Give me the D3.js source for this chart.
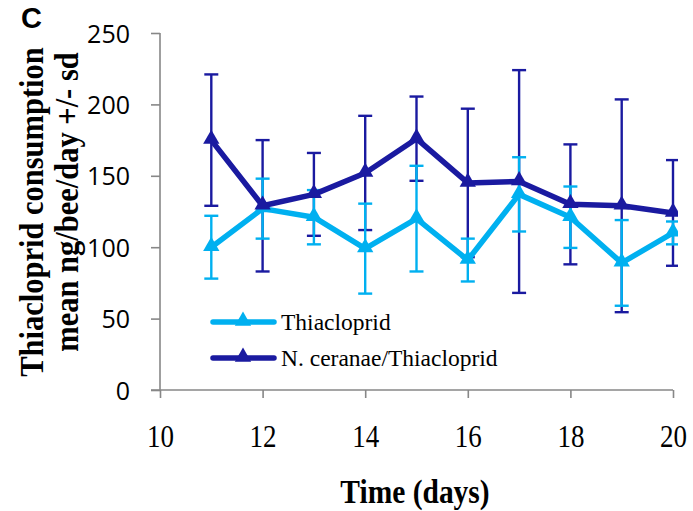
<!DOCTYPE html>
<html>
<head>
<meta charset="utf-8">
<script src="https://cdn.jsdelivr.net/npm/d3@7/dist/d3.min.js"></script>
<style>
  html, body { margin: 0; padding: 0; background: #fff; }
  svg { display: block; }
</style>
</head>
<body>
<svg id="chart" width="693" height="511"></svg>
<script>
// Thiacloprid consumption per bee, days 11-20
const days = [11, 12, 13, 14, 15, 16, 17, 18, 19, 20];
const thiaMean = [100, 127, 121, 99, 120, 91, 137, 121, 89, 110];
const thiaSd   = [22, 21, 19, 31.5, 37, 15, 26, 21.5, 30, 8];
const nceMean  = [175, 129, 137, 152, 176, 145, 146, 130, 129, 124];
const nceSd    = [46, 46, 29, 40, 29.5, 52, 78, 42, 74.5, 37];
const xTicks = [10, 12, 14, 16, 18, 20];
const yTicks = [0, 50, 100, 150, 200, 250];
const seriesNames = ["Thiacloprid", "N. ceranae/Thiacloprid"];

const light = "#00b0f0";
const dark = "#1a1aa0";
const axisGray = "#878787";

const svg = d3.select("#chart");
const x = d3.scaleLinear().domain([10, 20]).range([160, 673]);
const y = d3.scaleLinear().domain([0, 250]).range([390, 33]);

// clip region for the plotted data
svg.append("defs").append("clipPath").attr("id", "plotClip")
  .append("rect").attr("x", 140).attr("y", 0).attr("width", 538).attr("height", 420);

// y axis
const yAxis = svg.append("g").attr("transform", `translate(${x(10)},0)`)
  .call(d3.axisLeft(y).tickValues(yTicks).tickSize(9).tickPadding(18).tickFormat(d3.format("d")));
yAxis.select(".domain").attr("stroke", axisGray).attr("stroke-width", 1.6).attr("d", `M0,${y(0)}V${y(250)}`);
yAxis.selectAll(".tick line").attr("stroke", axisGray).attr("stroke-width", 1.6);
yAxis.selectAll(".tick text")
  .attr("font-family", "'Open Sans', sans-serif").attr("font-size", 25)
  .attr("fill", "#000").attr("dy", "0.36em").attr("x", -30);

// x axis
const xAxis = svg.append("g").attr("transform", `translate(0,${y(0)})`)
  .call(d3.axisBottom(x).tickValues(xTicks).tickSize(8).tickFormat(d3.format("d")));
xAxis.select(".domain").attr("stroke", axisGray).attr("stroke-width", 1.6).attr("d", `M${x(10) - 9},0H${x(20)}`);
xAxis.selectAll(".tick line").attr("stroke", axisGray).attr("stroke-width", 1.6);
xAxis.selectAll(".tick text")
  .attr("font-family", "'Liberation Serif', 'Times New Roman', serif").attr("font-size", 27)
  .attr("fill", "#000").attr("y", 0).attr("dy", 0)
  .attr("transform", "translate(0,57) scale(1,1.15)");

// data layer
const plot = svg.append("g").attr("clip-path", "url(#plotClip)");

function rows(mean, sd) {
  return days.map((d, i) => ({ day: d, v: mean[i], sd: sd[i] }));
}
const thiaRows = rows(thiaMean, thiaSd);
const nceRows = rows(nceMean, nceSd);

function errorBars(g, data, color) {
  const cap = 7;
  const eb = g.append("g").attr("stroke", color).attr("stroke-width", 2.4).attr("fill", "none");
  data.forEach(r => {
    const cx = x(r.day), top = y(r.v + r.sd), bot = y(r.v - r.sd);
    eb.append("line").attr("x1", cx).attr("x2", cx).attr("y1", top).attr("y2", bot);
    eb.append("line").attr("x1", cx - cap).attr("x2", cx + cap).attr("y1", top).attr("y2", top);
    eb.append("line").attr("x1", cx - cap).attr("x2", cx + cap).attr("y1", bot).attr("y2", bot);
  });
}

function lineAndMarkers(g, data, color) {
  const line = d3.line().x(r => x(r.day)).y(r => y(r.v));
  g.append("path").datum(data).attr("d", line)
    .attr("fill", "none").attr("stroke", color).attr("stroke-width", 5.5)
    .attr("stroke-linejoin", "round");
  const tri = d3.symbol().type(d3.symbolTriangle).size(115);
  g.selectAll(null).data(data).enter().append("path")
    .attr("d", tri)
    .attr("transform", r => `translate(${x(r.day)},${y(r.v) - 1})`)
    .attr("fill", color);
}

errorBars(plot, nceRows, dark);
errorBars(plot, thiaRows, light);
lineAndMarkers(plot, thiaRows, light);
lineAndMarkers(plot, nceRows, dark);

// legend
const legend = svg.append("g");
[[light, seriesNames[0], 322], [dark, seriesNames[1], 358]].forEach(([c, name, ly]) => {
  legend.append("line").attr("x1", 213).attr("x2", 274).attr("y1", ly).attr("y2", ly)
    .attr("stroke", c).attr("stroke-width", 5.5).attr("stroke-linecap", "round");
  legend.append("path").attr("d", d3.symbol().type(d3.symbolTriangle).size(115))
    .attr("transform", `translate(243,${ly - 1})`).attr("fill", c);
  legend.append("text").attr("x", 281).attr("y", ly + 7.5)
    .attr("font-family", "'Liberation Serif', 'Times New Roman', serif").attr("font-size", 23.5)
    .attr("fill", "#000").text(name);
});

// axis titles
svg.append("text")
  .attr("transform", "translate(415,503) scale(1,1.15)")
  .attr("text-anchor", "middle")
  .attr("font-family", "'Liberation Serif', 'Times New Roman', serif")
  .attr("font-weight", "bold").attr("font-size", 29.5).attr("fill", "#000")
  .text("Time (days)");

svg.append("text")
  .attr("transform", "translate(43,212) rotate(-90) scale(1,1.1)")
  .attr("text-anchor", "middle")
  .attr("font-family", "'Liberation Serif', 'Times New Roman', serif")
  .attr("font-weight", "bold").attr("font-size", 30.5).attr("fill", "#000")
  .text("Thiacloprid consumption");

svg.append("text")
  .attr("transform", "translate(78,202) rotate(-90) scale(1,1.1)")
  .attr("text-anchor", "middle")
  .attr("font-family", "'Liberation Serif', 'Times New Roman', serif")
  .attr("font-weight", "bold").attr("font-size", 30.5).attr("fill", "#000")
  .text("mean ng/bee/day +/- sd");

// panel letter
svg.append("text").attr("x", 21).attr("y", 28)
  .attr("font-family", "'Liberation Sans', Arial, sans-serif")
  .attr("font-weight", "bold").attr("font-size", 29).attr("fill", "#000")
  .text("C");
</script>
</body>
</html>
